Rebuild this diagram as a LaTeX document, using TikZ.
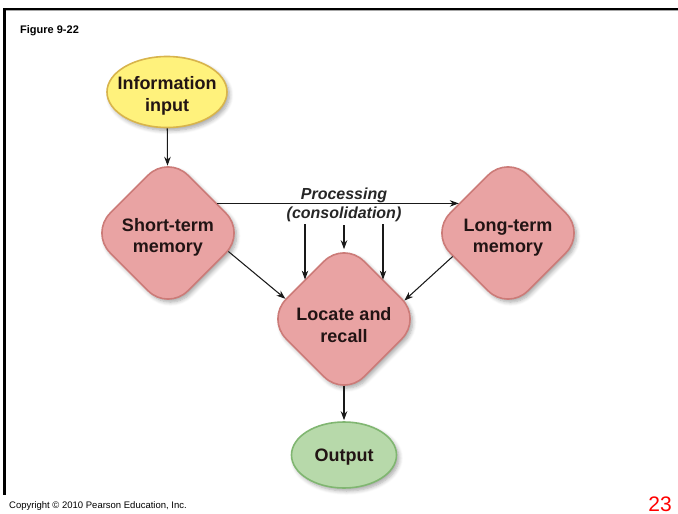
\documentclass[tikz,border=0pt]{standalone}
\usepackage{fontspec}
\setmainfont{Liberation Sans}
\usetikzlibrary{shapes.geometric,arrows.meta,shadows.blur}

\definecolor{roseFill}{HTML}{E9A3A3}
\definecolor{roseLine}{HTML}{CC7B78}
\definecolor{sunFill}{HTML}{FFF27C}
\definecolor{sunLine}{HTML}{D8B44C}
\definecolor{leafFill}{HTML}{B7D9AA}
\definecolor{leafLine}{HTML}{80B671}
\definecolor{inkText}{HTML}{221414}
\definecolor{pageRed}{HTML}{FF0000}

\begin{document}
\begin{tikzpicture}[x=1pt,y=-1pt,
  every node/.style={inner sep=0pt},
  softshadow/.style={blur shadow={shadow xshift=2.5pt,shadow yshift=-3pt,
      shadow blur steps=6,shadow opacity=35,shadow blur radius=4pt}},
  boxfont/.style={font=\fontsize{18}{21.5}\selectfont\bfseries, text=inkText, align=center},
  stage/.style={diamond, aspect=1, minimum width=156pt, minimum height=156pt,
      rounded corners=28pt, fill=roseFill, draw=roseLine, line width=1.6pt,
      softshadow},
  terminal/.style={ellipse, line width=1.6pt, softshadow},
  arr/.style={-{Stealth[length=9pt,width=6.5pt]}, line width=1.05pt, black!90},
  procfont/.style={font=\fontsize{16}{19}\selectfont\bfseries\itshape, text=black!85}
]
\useasboundingbox (0,0) rectangle (678,514);

% page frame
\draw[line width=1pt, black!35] (5,10.8) -- (678,10.8);
\draw[line width=2.6pt, black] (3,9) -- (678,9);
\draw[line width=3pt, black] (4.6,8) -- (4.6,495);

% headers and footers
\node[anchor=base west, font=\fontsize{11}{13}\selectfont\bfseries] (fig) at (20,33) {Figure 9-22};
\node[anchor=base west, font=\fontsize{9.5}{11}\selectfont] (copy) at (9,508) {Copyright \textcopyright{} 2010 Pearson Education, Inc.};
\node[anchor=base east, font=\fontsize{21}{24}\selectfont, text=pageRed] (page) at (672,511) {23};

% shapes
\node[terminal, fill=sunFill, draw=sunLine, minimum width=120pt, minimum height=71pt] (info) at (167,92) {};
\node[stage] (stm) at (168,233) {};
\node[stage] (ltm) at (508,233) {};
\node[stage] (lar) at (344,319) {};
\node[terminal, fill=leafFill, draw=leafLine, minimum width=105pt, minimum height=66pt] (out) at (344,455) {};

% texts inside the shapes
\node[boxfont, yshift=-4pt] (infotext) at (info) {Information\\input};
\node[boxfont, yshift=-4.5pt] (stmtext) at (stm) {Short-term\\memory};
\node[boxfont, yshift=-4.5pt] (ltmtext) at (ltm) {Long-term\\memory};
\node[boxfont, yshift=-6pt] (lartext) at (lar) {Locate and\\recall};
\node[boxfont, yshift=-2pt] (outtext) at (out) {Output};

% processing label
\node[procfont, anchor=base] (proc) at (344,199) {Processing};
\node[procfont, anchor=base] (cons) at (344,218) {(consolidation)};

% free starts of the consolidation arrows
\coordinate (c1) at (305,224);
\coordinate (c2) at (344,225);
\coordinate (c3) at (383,224);

% connectors
\draw[arr, shorten >=-11pt] (info) -- (stm);
\draw[arr] (stm.31) -- (ltm.149);
\draw[arr] (stm.-17) -- (lar.161);
\draw[arr] (ltm.-157) -- (lar.17);
\draw[arr] (c1) -- (lar.north west -| c1);
\draw[arr, shorten >=-9pt] (c2) -- (lar.north);
\draw[arr] (c3) -- (lar.north east -| c3);
\draw[arr, shorten <=-12pt, shorten >=1pt] (lar) -- (out);
\end{tikzpicture}
\end{document}
